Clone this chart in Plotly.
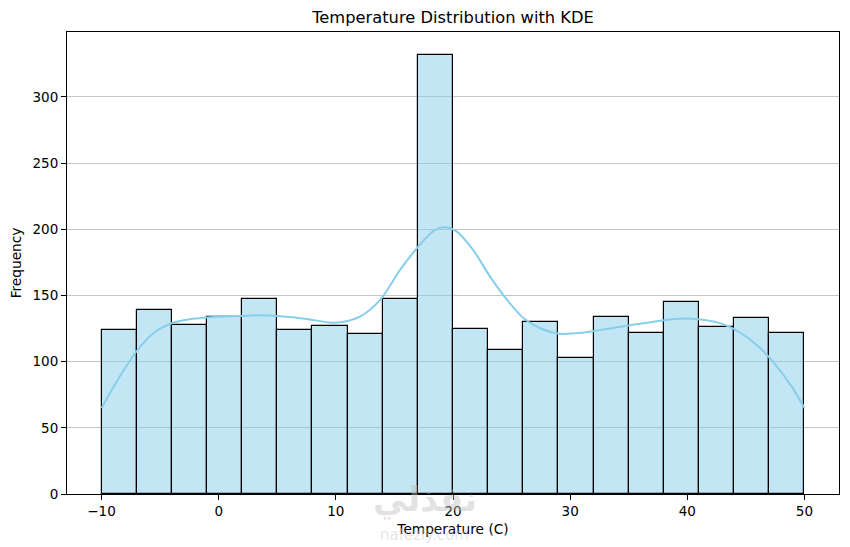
import plotly.graph_objects as go

# histogram bins (left edges, width 3) and counts
bin_left = [-10, -7, -4, -1, 2, 5, 8, 11, 14, 17, 20, 23, 26, 29, 32, 35, 38, 41, 44, 47]
bin_width = 3
counts = [124, 139, 128, 134, 147, 124, 127, 121, 147, 332,
          125, 109, 130, 103, 134, 122, 145, 126, 133, 122]

# KDE curve (scaled to counts)
kde_x = [-10, -8.5, -7, -5.5, -4, -2.5, -1, 0.5, 2, 3.5, 5, 6.5, 8, 9.4, 10.4,
         12.1, 13.8, 15.5, 17.05, 18.3, 19.3, 20.3, 21.7, 23.15, 24.6, 26, 27.4,
         29.1, 31, 32.5, 34, 35.5, 37, 38.5, 40, 41.5, 43, 44.5, 46, 47.5, 49, 50]
kde_y = [65, 88, 108, 122, 129, 132, 133.3, 134, 134.5, 135, 134.5, 133.3, 131.5, 129.6,
         129.7, 134.2, 146.8, 169.5, 187.1, 198.4, 201.5, 198.4, 184.6, 164.4, 146.8, 133,
         125.4, 121.1, 121.8, 123.8, 126, 128, 130, 131.8, 132.5, 131.5, 128.5, 122,
         112, 98, 80, 65]

x_ticks = [-10, 0, 10, 20, 30, 40, 50]
y_ticks = [0, 50, 100, 150, 200, 250, 300]

# the page body adds 8px around the figure, so the figure is drawn 8px smaller
W, H = 842, 539
ML, MR, MT, MB = 59, 11, 24, 53
pw, ph = W - ML - MR, H - MT - MB

fig = go.Figure()

fig.add_trace(go.Bar(
    x=[b + bin_width / 2 for b in bin_left],
    y=counts,
    width=bin_width,
    marker=dict(color='rgba(135, 206, 235, 0.5)', line=dict(color='black', width=1.2)),
    showlegend=False
))

fig.add_trace(go.Scatter(
    x=kde_x,
    y=kde_y,
    mode='lines',
    line=dict(color='#87CEEB', width=2, shape='spline', smoothing=0.8),
    showlegend=False
))

# watermark (faint, behind the x label)
fig.add_annotation(xref='paper', yref='paper', x=(425 - 67) / pw, y=-(522 - 494) / ph,
                   text='<b>نفذلي</b>', showarrow=False,
                   font=dict(size=34, color='rgba(190,190,190,0.45)', family='DejaVu Sans'))
fig.add_annotation(xref='paper', yref='paper', x=(424 - 67) / pw, y=-(546 - 494) / ph,
                   text='nafezly.com', showarrow=False,
                   font=dict(size=15, color='rgba(200,200,200,0.45)', family='DejaVu Sans'))

axis_common = dict(showline=True, linewidth=1, linecolor='black', mirror=True,
                   ticks='outside', ticklen=5, tickcolor='black', zeroline=False,
                   automargin=False, tickfont=dict(size=13.5, color='black'))

fig.update_layout(
    width=W,
    height=H,
    margin=dict(l=ML, r=MR, t=MT, b=MB),
    paper_bgcolor='white',
    plot_bgcolor='white',
    font=dict(family='DejaVu Sans', size=13.5, color='black'),
    title=dict(text='Temperature Distribution with KDE', x=445 / W, xanchor='center',
               y=1 - 9 / H, yanchor='middle', font=dict(size=16.3, color='black')),
    xaxis=dict(range=[-12.95, 52.95], tickvals=x_ticks, showgrid=False,
               title=dict(text='Temperature (C)', standoff=6, font=dict(size=13.7)),
               **axis_common),
    yaxis=dict(range=[0, 349], tickvals=y_ticks, showgrid=True,
               gridcolor='rgba(176,176,176,0.75)', gridwidth=1,
               title=dict(text='Frequency', standoff=8, font=dict(size=13.7)),
               **axis_common),
    bargap=0,
)

fig.write_html("out.html")
